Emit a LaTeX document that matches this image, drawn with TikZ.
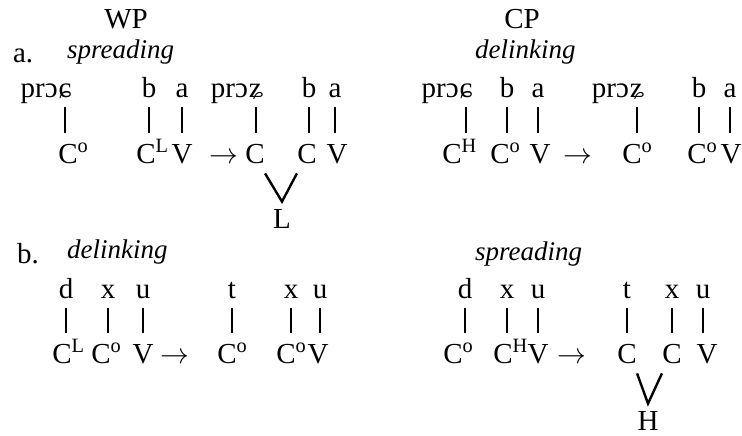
\documentclass[tikz,border=0pt]{standalone}
\usepackage{fontspec}
\setmainfont{Liberation Serif}[ItalicFont={Liberation Serif Italic}]
\usetikzlibrary{positioning}
\tikzset{
  seg/.style={anchor=base, inner xsep=0pt, inner ysep=5pt, text depth=0pt},
  skel/.style={anchor=base, inner xsep=0pt, inner ysep=5pt, text height=10pt, text depth=0pt},
  tonenode/.style={anchor=base, inner xsep=0pt, inner ysep=3pt, text height=10pt, text depth=0pt},
  heading/.style={anchor=base},
  process/.style={anchor=base west, font=\fontsize{13.5}{16}\selectfont\itshape},
  assoc/.style={line width=0.8pt},
  fuse/.style={line width=1.2pt}
}
\newcommand{\sk}[1]{C\rlap{\textsuperscript{#1}}}

\begin{document}
\begin{tikzpicture}[x=0.5pt, y=-0.5pt, every node/.style={font=\fontsize{14.5}{17}\selectfont}]
  \useasboundingbox (0,0) rectangle (742,435);
  \node[heading] (wp) at (126,28) {WP};
  \node[heading] (cp) at (522,28) {CP};
  \node[anchor=base west] (exa) at (6,62) {a.};
  \node[process] (spra) at (60,58) {spreading};
  \node[process] (dela) at (468,58) {delinking};
  \node[anchor=base west] (exb) at (10,263) {b.};
  \node[process] (delb) at (60,258) {delinking};
  \node[process] (sprb) at (468,260) {spreading};

  % a. WP
  \node[seg] (aw1) at (65,97) {ɕ};
  \node[seg, anchor=base east] (aw1w) at (aw1.base west) {prɔ};
  \node[seg] (aw2) at (149,97) {b};
  \node[seg] (aw3) at (182,97) {a};
  \node[skel] (awc1) at (68,163) {\sk{o}};
  \node[skel] (awc2) at (146,163) {\sk{L}};
  \node[skel] (awc3) at (182,163) {V};
  \node[skel] (awarr) at (224,163) {$\rightarrow$};
  \node[seg] (aw4) at (256,97) {ʑ};
  \node[seg, anchor=base east] (aw4w) at (aw4.base west) {prɔ};
  \node[seg] (aw5) at (309,97) {b};
  \node[seg] (aw6) at (335,97) {a};
  \node[skel] (awc4) at (255,163) {C};
  \node[skel] (awc5) at (307,163) {C};
  \node[skel] (awc6) at (337,163) {V};
  \node[tonenode] (awl) at (282,228) {L};
  \draw[assoc] (aw1.south) -- (aw1.south |- awc1.north);
  \draw[assoc] (aw2.south) -- (aw2.south |- awc2.north);
  \draw[assoc] (aw3.south) -- (aw3.south |- awc3.north);
  \draw[assoc] (aw4.south) -- (aw4.south |- awc4.north);
  \draw[assoc] (aw5.south) -- (aw5.south |- awc5.north);
  \draw[assoc] (aw6.south) -- (aw6.south |- awc6.north);
  \draw[fuse] (awc4.south east) -- (awl.north) -- (awc5.south west);

  % a. CP
  \node[seg] (ac1) at (466,97) {ɕ};
  \node[seg, anchor=base east] (ac1w) at (ac1.base west) {prɔ};
  \node[seg] (ac2) at (507,97) {b};
  \node[seg] (ac3) at (538,97) {a};
  \node[skel] (acc1) at (452,163) {\sk{H}};
  \node[skel] (acc2) at (500,163) {\sk{o}};
  \node[skel] (acc3) at (540,163) {V};
  \node[skel] (acarr) at (578,163) {$\rightarrow$};
  \node[seg] (ac4) at (637,97) {ʑ};
  \node[seg, anchor=base east] (ac4w) at (ac4.base west) {prɔ};
  \node[seg] (ac5) at (699,97) {b};
  \node[seg] (ac6) at (730,97) {a};
  \node[skel] (acc4) at (632,163) {\sk{o}};
  \node[skel] (acc5) at (697,163) {\sk{o}};
  \node[skel] (acc6) at (731,163) {V};
  \draw[assoc] (ac1.south) -- (ac1.south |- acc1.north);
  \draw[assoc] (ac2.south) -- (ac2.south |- acc2.north);
  \draw[assoc] (ac3.south) -- (ac3.south |- acc3.north);
  \draw[assoc] (ac4.south) -- (ac4.south |- acc4.north);
  \draw[assoc] (ac5.south) -- (ac5.south |- acc5.north);
  \draw[assoc] (ac6.south) -- (ac6.south |- acc6.north);

  % b. WP
  \node[seg] (bw1) at (66,298) {d};
  \node[seg] (bw2) at (108,298) {x};
  \node[seg] (bw3) at (143,298) {u};
  \node[skel] (bwc1) at (62,363) {\sk{L}};
  \node[skel] (bwc2) at (101,363) {\sk{o}};
  \node[skel] (bwc3) at (143,363) {V};
  \node[skel] (bwarr) at (175,363) {$\rightarrow$};
  \node[seg] (bw4) at (232,298) {t};
  \node[seg] (bw5) at (291,298) {x};
  \node[seg] (bw6) at (320,298) {u};
  \node[skel] (bwc4) at (227,363) {\sk{o}};
  \node[skel] (bwc5) at (286,363) {\sk{o}};
  \node[skel] (bwc6) at (318,363) {V};
  \draw[assoc] (bw1.south) -- (bw1.south |- bwc1.north);
  \draw[assoc] (bw2.south) -- (bw2.south |- bwc2.north);
  \draw[assoc] (bw3.south) -- (bw3.south |- bwc3.north);
  \draw[assoc] (bw4.south) -- (bw4.south |- bwc4.north);
  \draw[assoc] (bw5.south) -- (bw5.south |- bwc5.north);
  \draw[assoc] (bw6.south) -- (bw6.south |- bwc6.north);

  % b. CP
  \node[seg] (bc1) at (465,298) {d};
  \node[seg] (bc2) at (507,298) {x};
  \node[seg] (bc3) at (538,298) {u};
  \node[skel] (bcc1) at (453,363) {\sk{o}};
  \node[skel] (bcc2) at (503,363) {\sk{H}};
  \node[skel] (bcc3) at (538,363) {V};
  \node[skel] (bcarr) at (572,363) {$\rightarrow$};
  \node[seg] (bc4) at (627,298) {t};
  \node[seg] (bc5) at (672,298) {x};
  \node[seg] (bc6) at (703,298) {u};
  \node[skel] (bcc4) at (627,363) {C};
  \node[skel] (bcc5) at (672,363) {C};
  \node[skel] (bcc6) at (707,363) {V};
  \node[tonenode] (bch) at (648,430) {H};
  \draw[assoc] (bc1.south) -- (bc1.south |- bcc1.north);
  \draw[assoc] (bc2.south) -- (bc2.south |- bcc2.north);
  \draw[assoc] (bc3.south) -- (bc3.south |- bcc3.north);
  \draw[assoc] (bc4.south) -- (bc4.south |- bcc4.north);
  \draw[assoc] (bc5.south) -- (bc5.south |- bcc5.north);
  \draw[assoc] (bc6.south) -- (bc6.south |- bcc6.north);
  \draw[fuse] (bcc4.south east) -- (bch.north) -- (bcc5.south west);
\end{tikzpicture}
\end{document}
